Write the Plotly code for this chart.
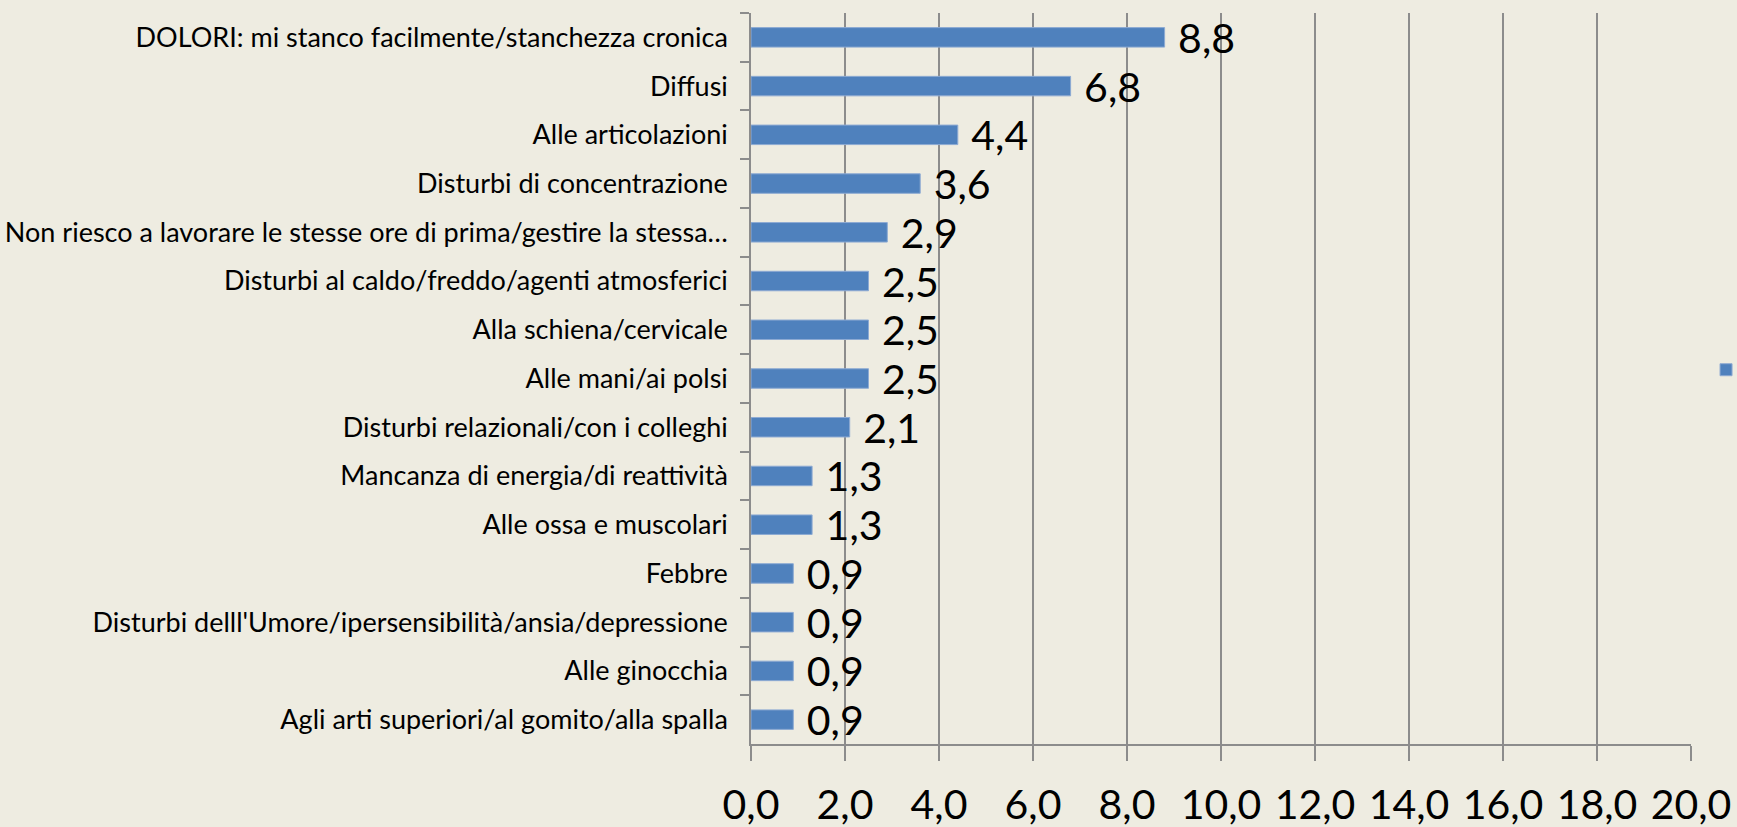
import plotly.graph_objects as go

categories = [
    "DOLORI: mi stanco facilmente/stanchezza cronica",
    "Diffusi",
    "Alle articolazioni",
    "Disturbi di concentrazione",
    "Non riesco a lavorare le stesse ore di prima/gestire la stessa…",
    "Disturbi al caldo/freddo/agenti atmosferici",
    "Alla schiena/cervicale",
    "Alle mani/ai polsi",
    "Disturbi relazionali/con i colleghi",
    "Mancanza di energia/di reattività",
    "Alle ossa e muscolari",
    "Febbre",
    "Disturbi delll'Umore/ipersensibilità/ansia/depressione",
    "Alle ginocchia",
    "Agli arti superiori/al gomito/alla spalla",
]
values = [8.8, 6.8, 4.4, 3.6, 2.9, 2.5, 2.5, 2.5, 2.1, 1.3, 1.3, 0.9, 0.9, 0.9, 0.9]
x_ticks = [0, 2, 4, 6, 8, 10, 12, 14, 16, 18, 20]
series_name = "Serie1"

BG = "#EEECE1"
BAR = "#4F81BD"
GRID = "#8C8C8C"
FONT = "Lato, 'Noto Sans', sans-serif"

fig = go.Figure(
    go.Bar(
        x=values,
        y=categories,
        orientation="h",
        name=series_name,
        marker=dict(color=BAR, line=dict(color="#8DAAD3", width=1)),
        texttemplate="\u00a0%{x:.1f}",
        textposition="outside",
        constraintext="none",
        cliponaxis=False,
        textfont=dict(family=FONT, size=41, color="black"),
        showlegend=True,
    )
)

fig.update_layout(
    width=1737,
    height=827,
    paper_bgcolor=BG,
    plot_bgcolor=BG,
    separators=",.",
    bargap=0.6,
    margin=dict(l=751, r=46, t=13, b=83, autoexpand=False),
    font=dict(family=FONT, color="black"),
    showlegend=True,
    legend=dict(
        x=1.016, xanchor="left", y=0.512, yanchor="middle",
        bgcolor="rgba(0,0,0,0)", font=dict(size=20, color="black"),
    ),
)

fig.update_xaxes(
    range=[0, 20],
    tickvals=x_ticks,
    tickformat=".1f",
    showgrid=True,
    gridcolor=GRID,
    gridwidth=1.5,
    showline=True,
    linecolor=GRID,
    linewidth=1.5,
    ticks="outside",
    ticklen=15,
    tickwidth=1.5,
    tickcolor=GRID,
    tickfont=dict(family=FONT, size=41, color="black"),
    ticklabelstandoff=9,
    zeroline=False,
)

fig.update_yaxes(
    autorange="reversed",
    type="category",
    showline=True,
    linecolor=GRID,
    linewidth=1.5,
    ticks="outside",
    tickson="boundaries",
    ticklen=9,
    tickwidth=1.5,
    tickcolor=GRID,
    tickfont=dict(family=FONT, size=27, color="black"),
    ticklabelstandoff=16,
    showgrid=False,
)

fig.write_html(
    "out.html",
    config={"displayModeBar": False},
    post_script="document.body.style.margin='0';document.body.style.overflow='hidden';",
)
